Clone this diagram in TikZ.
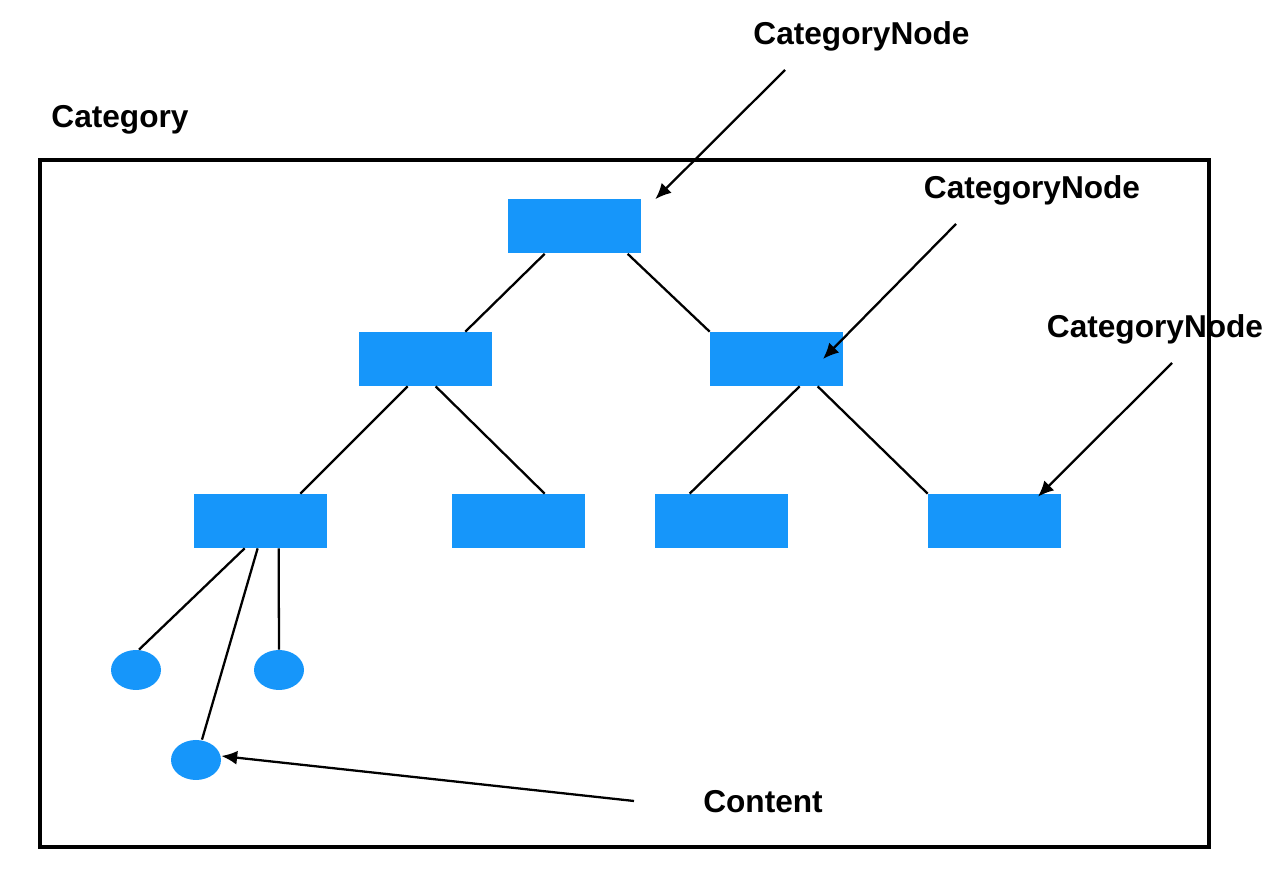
\documentclass[tikz,border=0pt]{standalone}
\usepackage{fontspec}
\setmainfont{Liberation Sans}
\usetikzlibrary{arrows.meta, shapes.geometric}
\definecolor{treeblue}{RGB}{22,150,250}
\begin{document}
\begin{tikzpicture}[
	catbox/.style={rectangle, fill=treeblue, inner sep=0pt, minimum width=2.66cm, minimum height=1.08cm},
	leaf/.style={ellipse, fill=treeblue, inner sep=0pt, minimum width=1cm, minimum height=0.8cm},
	tag/.style={font=\fontsize{18}{21}\selectfont\bfseries, inner sep=0pt},
	edge/.style={line width=1.3pt},
	pointer/.style={line width=1.3pt, -{Latex[length=9pt, width=8pt]}}]
	\useasboundingbox (0, 0) rectangle (25.68, 17.4);
	\draw[line width=1.9pt] (0.8, 0.46) rectangle (24.18, 14.2);
	\node[tag] (t0) at (2.4, 15.0) {Category};
	\node[catbox] (0) at (11.49, 12.87) {};
	\node[catbox] (1) at (8.51, 10.22) {};
	\node[catbox] (2) at (15.53, 10.22) {};
	\node[catbox] (3) at (5.21, 6.98) {};
	\node[catbox] (4) at (10.37, 6.98) {};
	\node[catbox] (5) at (14.43, 6.98) {};
	\node[catbox] (6) at (19.89, 6.98) {};
	\node[leaf] (7) at (2.72, 4.0) {};
	\node[leaf] (8) at (5.58, 4.0) {};
	\node[leaf] (9) at (3.92, 2.2) {};
	\node[tag] (t1) at (17.23, 16.68) {CategoryNode};
	\node[tag] (t2) at (20.64, 13.6) {CategoryNode};
	\node[tag] (t3) at (23.1, 10.82) {CategoryNode};
	\node[tag] (t4) at (15.26, 1.36) {Content};
	\coordinate (s1) at (15.7, 16.0);
	\coordinate (s2) at (19.12, 12.92);
	\coordinate (s3) at (23.44, 10.14);
	\coordinate (s4) at (12.68, 1.38);
	\draw[edge] ([xshift=0.74cm]0.south west) to ([xshift=-0.54cm]1.north east);
	\draw[edge] ([xshift=2.4cm]0.south west) to (2.north west);
	\draw[edge] ([xshift=0.98cm]1.south west) to ([xshift=-0.54cm]3.north east);
	\draw[edge] ([xshift=1.54cm]1.south west) to ([xshift=1.86cm]4.north west);
	\draw[edge] ([xshift=1.8cm]2.south west) to ([xshift=0.7cm]5.north west);
	\draw[edge] ([xshift=2.16cm]2.south west) to (6.north west);
	\draw[edge] ([xshift=1.02cm]3.south west) to ([xshift=0.06cm]7.north);
	\draw[edge] ([xshift=1.28cm]3.south west) to ([xshift=0.12cm]9.north);
	\draw[edge] ([xshift=1.7cm]3.south west) to (8.north);
	\draw[pointer] (s1) to ([xshift=0.28cm]0.north east);
	\draw[pointer] (s2) to ([xshift=0.93cm]2.center);
	\draw[pointer] (s3) to ([xshift=0.87cm, yshift=-0.06cm]6.north);
	\draw[pointer] (s4) to ([yshift=0.08cm]9.east);
\end{tikzpicture}
\end{document}
